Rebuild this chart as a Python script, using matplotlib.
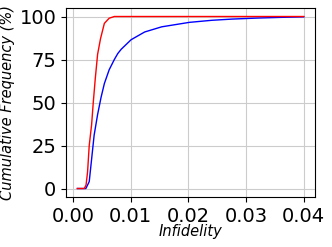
import matplotlib.pyplot as plt
import numpy as np

red_x = [0.0008, 0.0020, 0.0023, 0.00256, 0.00285, 0.00326, 0.00355, 0.0039, 0.0043,
         0.0048, 0.00547, 0.0063, 0.0072, 0.0400]
red_y = [0, 0, 2, 9.5, 25, 37, 50, 64, 78,
         87, 96, 99, 100, 100]

blue_x = [0.0008, 0.00227, 0.00285, 0.00326, 0.0037, 0.0043, 0.0049, 0.00547, 0.0063,
          0.0072, 0.0078, 0.0084, 0.0101, 0.01245, 0.0154, 0.0202, 0.0241, 0.0276,
          0.0320, 0.0360, 0.0400]
blue_y = [0, 0, 4, 17, 31, 43, 53, 61, 69,
          75, 78.5, 81, 86.5, 91, 94, 96.6, 97.8, 98.5,
          99.1, 99.5, 99.8]

fig = plt.figure(figsize=(3.32, 2.47), dpi=100)
ax = fig.add_axes([0.199, 0.202, 0.750, 0.766])

ax.plot(blue_x, blue_y, color='blue', lw=1)
ax.plot(red_x, red_y, color='red', lw=1)

ax.set_xticks([0.00, 0.01, 0.02, 0.03, 0.04])
ax.set_yticks([0, 25, 50, 75, 100])
ax.tick_params(labelsize=14)
ax.set_xlabel("Infidelity", fontsize=10.5, style='italic', labelpad=-1)
ax.set_ylabel("Cumulative Frequency (%)", fontsize=10.5, style='italic', labelpad=3)
ax.grid(color='#cccccc')
ax.set_axisbelow(True)

fig.savefig("out.png", dpi=100)
